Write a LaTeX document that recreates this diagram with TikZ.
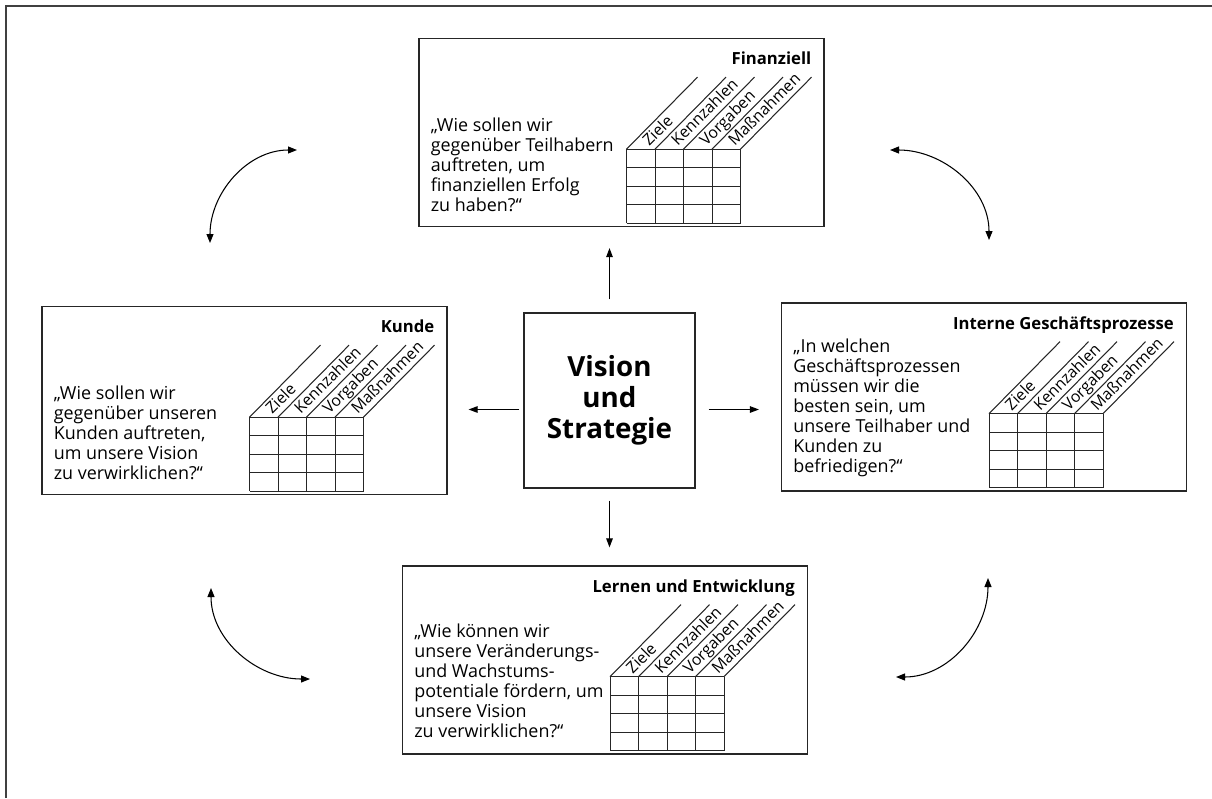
\documentclass[tikz,border=0pt]{standalone}
\usepackage{fontspec}
\setmainfont{Open Sans}
\usetikzlibrary{arrows.meta,calc}

% Tabelle mit schraegen Spaltenkoepfen, #1 = linke obere Ecke
\newcommand{\bsctabelle}[1]{%
  \begin{scope}[shift={(#1)}]
    \foreach \i in {0,...,4} {
      \draw[raster] (28.5*\i,0) -- (28.5*\i,74);
      \draw[raster] (28.5*\i,0) -- ++(71,-72);
    }
    \foreach \j in {0,...,4}
      \draw[raster] (0,18.5*\j) -- (114,18.5*\j);
    \foreach \lab [count=\i from 0] in {Ziele,Kennzahlen,Vorgaben,Maßnahmen}
      \node[spalte] (#1-s\i) at (28.5*\i+22.5,-2) {\lab};
  \end{scope}}

\begin{document}
\begin{tikzpicture}[x=0.02cm,y=-0.02cm]

    \tikzstyle{perspektive} = [draw=black!85, line width=0.7pt, minimum width=8.1cm, minimum height=3.76cm, inner sep=0pt]
    \tikzstyle{titel} = [anchor=north east, inner sep=0pt, font=\bfseries\fontsize{9.5}{11}\selectfont]
    \tikzstyle{frage} = [anchor=north west, inner sep=0pt, align=left, font=\fontsize{10.2}{11.4}\selectfont]
    \tikzstyle{raster} = [line width=0.6pt, black!85]
    \tikzstyle{spalte} = [anchor=base west, rotate=45, inner sep=0pt, font=\fontsize{9}{10}\selectfont]
    \tikzstyle{vision} = [draw=black!85, line width=0.7pt, minimum width=3.42cm, minimum height=3.5cm, align=center, font=\bfseries\fontsize{15.8}{17.6}\selectfont]
    \tikzstyle{pfeil} = [-{Triangle[length=1.8mm,width=1.3mm]}, line width=0.6pt]
    \tikzstyle{bogen} = [{Triangle[length=1.8mm,width=1.4mm]}-{Triangle[length=1.8mm,width=1.4mm]}, line width=0.6pt]

    \useasboundingbox (0,0) rectangle (1212,798);
    \draw[line width=1pt, black!75] (6,798) -- (6,6) -- (1212,6);

    % Boxen
    \node[perspektive] (fin) at (621.5,132.5) {};
    \node[perspektive] (kunde) at (244.5,400.5) {};
    \node[perspektive] (intern) at (984,397) {};
    \node[perspektive] (lernen) at (605,660) {};
    \node[vision] (vision) at (609.5,400.5) {Vision\\und\\Strategie};

    % Titel
    \node[titel] (fin-t) at ($(fin.north east)+(-13,14)$) {Finanziell};
    \node[titel] (kunde-t) at ($(kunde.north east)+(-13,14)$) {Kunde};
    \node[titel] (intern-t) at ($(intern.north east)+(-13,14)$) {Interne Geschäftsprozesse};
    \node[titel] (lernen-t) at ($(lernen.north east)+(-13,14)$) {Lernen und Entwicklung};

    % Fragen
    \node[frage] (fin-f) at ($(fin.north west)+(12,80)$) {„Wie sollen wir\\gegenüber Teilhabern\\auftreten, um\\finanziellen Erfolg\\zu haben?“};
    \node[frage] (kunde-f) at ($(kunde.north west)+(12,80)$) {„Wie sollen wir\\gegenüber unseren\\Kunden auftreten,\\um unsere Vision\\zu verwirklichen?“};
    \node[frage] (intern-f) at ($(intern.north west)+(12,36)$) {„In welchen\\Geschäftsprozessen\\müssen wir die\\besten sein, um\\unsere Teilhaber und\\Kunden zu\\befriedigen?“};
    \node[frage] (lernen-f) at ($(lernen.north west)+(12,58)$) {„Wie können wir\\unsere Veränderungs-\\und Wachstums-\\potentiale fördern, um\\unsere Vision\\zu verwirklichen?“};

    % Tabellen
    \coordinate (fintab) at ($(fin.south east)+(-198,-78)$);
    \coordinate (kundetab) at ($(kunde.south east)+(-198,-78)$);
    \coordinate (interntab) at ($(intern.south east)+(-198,-78)$);
    \coordinate (lernentab) at ($(lernen.south east)+(-198,-78)$);
    \bsctabelle{fintab}
    \bsctabelle{kundetab}
    \bsctabelle{interntab}
    \bsctabelle{lernentab}

    % gerade Pfeile
    \coordinate (vmid) at ($(vision.center)+(0,9)$);
    \draw[pfeil, shorten <=0.26cm, shorten >=0.42cm] (vision.north) -- (vision.north |- fin.south);
    \draw[pfeil, shorten <=0.08cm, shorten >=0.42cm] (vision.west |- vmid) -- (kunde.east |- vmid);
    \draw[pfeil, shorten <=0.26cm, shorten >=0.44cm] (vision.east |- vmid) -- (intern.west |- vmid);
    \draw[pfeil, shorten <=0.24cm, shorten >=0.36cm] (vision.south) -- (vision.south |- lernen.north);

    % gebogene Pfeile
    \coordinate (kf1) at (210,243);
    \coordinate (kf2) at (297,150);
    \coordinate (fi1) at (890,150);
    \coordinate (fi2) at (989,240);
    \coordinate (il1) at (988,578);
    \coordinate (il2) at (896,677);
    \coordinate (lk1) at (310,679);
    \coordinate (lk2) at (211,588);
    \draw[bogen] (kf1) to[out=90,in=180] (kf2);
    \draw[bogen] (fi1) to[out=0,in=90] (fi2);
    \draw[bogen] (il1) to[out=-90,in=0] (il2);
    \draw[bogen] (lk1) to[out=180,in=-90] (lk2);
\end{tikzpicture}
\end{document}
